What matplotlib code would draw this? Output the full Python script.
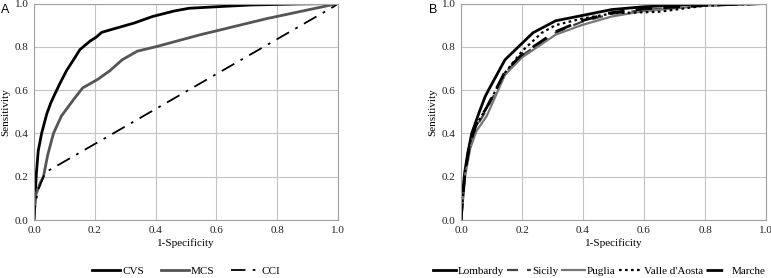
import numpy as np
import matplotlib
matplotlib.use("Agg")
import matplotlib.pyplot as plt

# panel A
cvs_x = [0.0, 0.004, 0.008, 0.014, 0.025, 0.042, 0.055, 0.068, 0.085, 0.107, 0.13, 0.151, 0.184, 0.205, 0.223, 0.28, 0.33, 0.39, 0.46, 0.51, 0.6, 0.71, 0.87, 1.0]
cvs_y = [0.0, 0.12, 0.22, 0.32, 0.40, 0.49, 0.54, 0.58, 0.63, 0.69, 0.74, 0.787, 0.826, 0.845, 0.867, 0.89, 0.91, 0.94, 0.965, 0.978, 0.985, 0.993, 0.998, 1.0]
mcs_x = [0.0, 0.003, 0.007, 0.02, 0.031, 0.045, 0.064, 0.09, 0.13, 0.16, 0.21, 0.25, 0.29, 0.34, 0.40, 0.545, 0.765, 1.0]
mcs_y = [0.0, 0.07, 0.12, 0.17, 0.20, 0.30, 0.40, 0.48, 0.556, 0.61, 0.65, 0.69, 0.74, 0.78, 0.80, 0.855, 0.93, 1.0]
cci_x = [0.0, 0.005, 0.014, 0.036, 0.05, 0.985, 1.0]
cci_y = [0.0, 0.08, 0.14, 0.217, 0.23, 0.985, 1.0]

# panel B
lom_x = [0.0, 0.004, 0.012, 0.022, 0.035, 0.06, 0.079, 0.09, 0.144, 0.236, 0.31, 0.395, 0.494, 0.6, 0.75, 1.0]
lom_y = [0.0, 0.10, 0.22, 0.31, 0.40, 0.50, 0.57, 0.60, 0.74, 0.865, 0.92, 0.944, 0.972, 0.985, 0.995, 1.0]
sic_x = [0.0, 0.005, 0.013, 0.03, 0.05, 0.084, 0.144, 0.2, 0.31, 0.395, 0.494, 0.6, 0.8, 1.0]
sic_y = [0.0, 0.08, 0.21, 0.35, 0.43, 0.51, 0.68, 0.76, 0.865, 0.915, 0.952, 0.97, 0.99, 1.0]
pug_x = [0.0, 0.005, 0.013, 0.03, 0.05, 0.084, 0.144, 0.199, 0.31, 0.395, 0.494, 0.6, 0.8, 1.0]
pug_y = [0.0, 0.07, 0.20, 0.33, 0.41, 0.48, 0.67, 0.75, 0.856, 0.90, 0.94, 0.965, 0.99, 1.0]
val_x = [0.0, 0.005, 0.013, 0.03, 0.05, 0.084, 0.144, 0.2, 0.265, 0.31, 0.395, 0.5, 0.65, 0.8, 1.0]
val_y = [0.0, 0.09, 0.22, 0.36, 0.44, 0.52, 0.68, 0.78, 0.865, 0.90, 0.93, 0.955, 0.962, 0.99, 1.0]
mar_x = [0.0, 0.005, 0.013, 0.03, 0.05, 0.084, 0.144, 0.2, 0.31, 0.395, 0.494, 0.6, 0.8, 1.0]
mar_y = [0.0, 0.09, 0.22, 0.36, 0.44, 0.52, 0.685, 0.765, 0.87, 0.92, 0.958, 0.975, 0.992, 1.0]

ticks = [0.0, 0.2, 0.4, 0.6, 0.8, 1.0]
tick_labels = ["0.0", "0.2", "0.4", "0.6", "0.8", "1.0"]

plt.rcParams["font.family"] = ["Liberation Serif", "DejaVu Serif"]
plt.rcParams["font.size"] = 8

fig = plt.figure(figsize=(7.71, 2.78), dpi=100)
ax1 = fig.add_axes([0.0441, 0.2086, 0.3943, 0.7788])
ax2 = fig.add_axes([0.598, 0.2086, 0.3955, 0.7788])


def style(ax):
    ax.set_xlim(0, 1)
    ax.set_ylim(0, 1)
    ax.set_xticks(ticks)
    ax.set_yticks(ticks)
    ax.set_xticklabels(tick_labels)
    ax.set_yticklabels(tick_labels)
    ax.tick_params(length=0, pad=4, labelsize=8, colors="#222222")
    ax.grid(True, color="#c4c4c4", linewidth=0.8)
    ax.set_axisbelow(True)
    for s in ax.spines.values():
        s.set_color("#a0a0a0")
        s.set_linewidth(0.8)
    ax.set_xlabel("1-Specificity", fontsize=8, labelpad=3)
    ax.set_ylabel("Sensitivity", fontsize=8, labelpad=3)


style(ax1)
ax1.plot(cvs_x, cvs_y, color="black", lw=2.0, label="CVS")
ax1.plot(mcs_x, mcs_y, color="#555555", lw=2.0, label="MCS")
ax1.plot(cci_x, cci_y, color="black", lw=1.3, dashes=[8, 4, 1.5, 4], label="CCI")
ax1.legend(loc="center", bbox_to_anchor=(0.5, -0.235), ncol=3, frameon=False,
           fontsize=8, handlelength=2.5, handletextpad=0.2, columnspacing=1.5,
           borderpad=0.1)

style(ax2)
ax2.plot(lom_x, lom_y, color="black", lw=2.0, label="Lombardy")
ax2.plot(sic_x, sic_y, color="#444444", lw=1.6, dashes=[5, 4], label="Sicily")
ax2.plot(pug_x, pug_y, color="#777777", lw=1.6, label="Puglia")
ax2.plot(val_x, val_y, color="black", lw=1.6, dashes=[1.2, 1.5], label="Valle d'Aosta")
ax2.plot(mar_x, mar_y, color="black", lw=2.0, dashes=[6, 4], label="Marche")
ax2.legend(loc="center", bbox_to_anchor=(0.452, -0.235), ncol=5, frameon=False,
           fontsize=8, handlelength=2.1, handletextpad=0.15, columnspacing=0.3,
           borderpad=0.1)

fig.text(0.001, 0.955, "A", fontsize=9, family=["Liberation Sans"])
fig.text(0.556, 0.955, "B", fontsize=9, family=["Liberation Sans"])

fig.savefig("out.png", dpi=100)
